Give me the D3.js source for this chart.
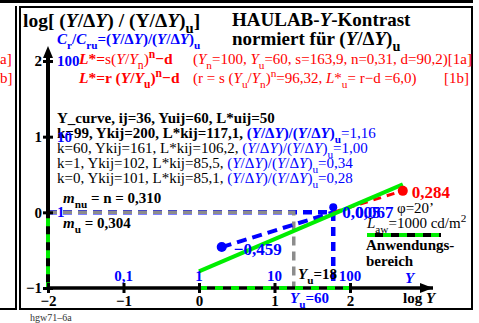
<!DOCTYPE html>
<html>
<head>
<meta charset="utf-8">
<script src="https://cdn.jsdelivr.net/npm/d3@7"></script>
<style>
  body { margin: 0; background: #fff; }
  svg { display: block; font-family: "Liberation Serif", "DejaVu Serif", serif; }
</style>
</head>
<body>
<div id="graph"></div>
<script>
// axis ticks (log Y on x, log contrast ratio on y)
const xTicks = [-2, -1, 0, 1, 2];
const yTicks = [-1, 0, 1, 2];
const yLabels = ["0,1", "1", "10", "100"];        // Y above the x axis at -1..2
const ratioTicks = [0, 1, 2];
const ratioLabels = ["1", "10", "100"];          // Cr/Cru on the y axis

// curves, [logY, log ratio]
const greenLine = [[0, -0.78], [2.70, 0.37]];
const blueLine = [[0.301, -0.459], [1.778, 0]];
const redLine = [[1.778, 0], [2.699, 0.284]];
const bluePoint = [0.301, -0.459];
const blueEndPoint = [1.778, 0.067];
const redPoint = [2.699, 0.284];
const logYu18 = 1.255;   // Yu=18
const logYu60 = 1.778;   // Yu=60
const rangeX = [0, 2];   // Anwendungsbereich on the x axis
const rangeY = [-1, 0];

const svgWidth = 479, svgHeight = 323;
const blue = "#0000ff", red = "#ff0000", green = "#00ee00", gray = "#8c8c8c";

const svg = d3.select('#graph').append('svg')
  .attr('width', svgWidth).attr('height', svgHeight);

const x = d3.scaleLinear().domain([-2, 2]).range([48, 350]);
const y = d3.scaleLinear().domain([-1, 2]).range([288, 61]);

// frames
svg.append('rect').attr('x', 0).attr('y', 0).attr('width', 473).attr('height', 3).attr('fill', '#000');
svg.append('path').attr('d', 'M0,309H16V6').attr('fill', 'none').attr('stroke', '#000').attr('stroke-width', 2);
svg.append('rect').attr('x', 20).attr('y', 7).attr('width', 452).attr('height', 302)
  .attr('fill', 'none').attr('stroke', '#000').attr('stroke-width', 2);

// rich text helper: parts = [text, flags, color]; flags: i italic, n normal, _ sub, ^ sup
function rich(px, py, size, parts, color, weight) {
  const t = svg.append('text').attr('x', px).attr('y', py)
    .attr('font-size', size).attr('fill', color || '#000')
    .attr('font-weight', weight || 'bold');
  let off = 0;
  parts.forEach(p => {
    const s = typeof p === 'string' ? p : p[0];
    const f = typeof p === 'string' ? '' : (p[1] || '');
    const ts = t.append('tspan').text(s);
    const target = f.includes('_') ? size * 0.3 : f.includes('^') ? -size * 0.4 : 0;
    if (target !== off) ts.attr('dy', target - off);
    off = target;
    if (f.includes('_') || f.includes('^')) ts.attr('font-size', size * 0.75);
    if (f.includes('i')) ts.attr('font-style', 'italic');
    if (f.includes('n')) ts.attr('font-weight', 'normal');
    if (f.includes('b')) ts.attr('font-weight', 'bold');
    if (p[2]) ts.attr('fill', p[2]);
  });
  return t;
}

// headings
rich(23, 27, 19.5, ['log[ (', ['Y', 'i'], '/Δ', ['Y', 'i'], ') / (Y/Δ', ['Y', 'i'], ')', ['u', '_'], ']']);
rich(232, 26, 19, ['HAULAB-', ['Y', 'i'], '-Kontrast']);
rich(232, 45, 19, ['normiert für (', ['Y', 'i'], '/Δ', ['Y', 'i'], ')', ['u', '_']]);
rich(57, 44, 15, [['C', 'i'], ['r', '_'], '/', ['C', 'i'], ['ru', '_'], '=(', ['Y', 'i'], '/Δ', ['Y', 'i'], ')/(', ['Y', 'i'], '/Δ', ['Y', 'i'], ')', ['u', '_']], blue);

// red formulas
rich(79, 64, 15.5, [['L', 'i'], '*=', ['s(', 'n'], ['Y', 'in'], ['/', 'n'], ['Y', 'in'], ['n', '_n'], [')', 'n'], ['n', '^'], '−d'], red);
rich(193, 64, 15, ['(', ['Y', 'i'], ['n', '_'], '=100, ', ['Y', 'i'], ['u', '_'], '=60, s=163,9, n=0,31, d=90,2)[1a]'], red, 'normal');
rich(79, 83, 15.5, [['L', 'i'], '*=r (', ['Y', 'i'], '/', ['Y', 'i'], ['u', '_'], ')', ['n', '^'], '−d'], red);
rich(193, 83, 15, ['(r = s (', ['Y', 'i'], ['u', '_'], '/', ['Y', 'i'], ['n', '_'], ')', ['n', '^'], '=96,32, ', ['L', 'i'], '*', ['u', '_'], '= r−d =6,0)'], red, 'normal');
rich(444, 83, 15, ['[1b]'], red, 'normal');
rich(0, 64, 15, ['a]'], red, 'normal');
rich(0, 83, 15, ['b]'], red, 'normal');

// Y_curve block
const ratioParts = v => [['(', '', blue], ['Y', 'i', blue], ['/Δ', '', blue], ['Y', 'i', blue], [')/(', '', blue], ['Y', 'i', blue], ['/Δ', '', blue], ['Y', 'i', blue], [')', '', blue], ['u', '_', blue], ['=' + v, 'n', blue]];
rich(57, 123, 15, ['Y_curve, ij=36, Yuij=60, L*uij=50']);
rich(57, 138, 15, ['k=99, Ykij=200, L*kij=117,1, '].concat(ratioParts('1,16')));
rich(57, 153, 15, [['k=60, Ykij=161, L*kij=106,2, ', 'n']].concat(ratioParts('1,00')), '#000', 'normal');
rich(57, 168, 15, [['k=1, Ykij=102, L*kij=85,5, ', 'n']].concat(ratioParts('0,34')), '#000', 'normal');
rich(57, 183, 15, [['k=0, Ykij=101, L*kij=85,1, ', 'n']].concat(ratioParts('0,28')), '#000', 'normal');
rich(63, 203, 15, [['m', 'i'], ['nu', '_'], ' = n = 0,310']);
rich(63, 228, 15, [['m', 'i'], ['u', '_'], ' = 0,304']);

// reference lines Yu=60 (blue) and Yu=18 (gray)
const line = d3.line().x(d => x(d[0])).y(d => y(d[1]));
svg.append('path').datum([[-2, 0], [logYu60, 0], [logYu60, -1]]).attr('d', line)
  .attr('fill', 'none').attr('stroke', blue).attr('stroke-width', 4.5).attr('stroke-dasharray', '9,6');
svg.append('path').datum([[-2, 0], [logYu18, 0], [logYu18, -1]]).attr('d', line)
  .attr('fill', 'none').attr('stroke', gray).attr('stroke-width', 3.5).attr('stroke-dasharray', '9,6');

// curves
svg.append('path').datum(redLine).attr('d', line)
  .attr('fill', 'none').attr('stroke', red).attr('stroke-width', 3).attr('stroke-dasharray', '8,6');
svg.append('path').datum(blueLine).attr('d', line)
  .attr('fill', 'none').attr('stroke', blue).attr('stroke-width', 4).attr('stroke-dasharray', '10,6');
svg.append('path').datum(greenLine).attr('d', line)
  .attr('fill', 'none').attr('stroke', green).attr('stroke-width', 4);

svg.append('circle').attr('cx', x(bluePoint[0])).attr('cy', y(bluePoint[1])).attr('r', 5).attr('fill', blue);
svg.append('circle').attr('cx', x(blueEndPoint[0])).attr('cy', y(blueEndPoint[1])).attr('r', 4).attr('fill', blue);
svg.append('circle').attr('cx', x(redPoint[0])).attr('cy', y(redPoint[1])).attr('r', 5).attr('fill', red);

rich(x(bluePoint[0]) + 12, y(bluePoint[1]) + 8, 17, ['−0,459'], blue);
rich(x(blueEndPoint[0]) + 9, y(blueEndPoint[1]) + 11, 17, ['0,005'], blue);
rich(x(blueEndPoint[0]) + 22, y(blueEndPoint[1]) + 11, 17, ['0,067'], blue);
rich(x(redPoint[0]) + 9, y(redPoint[1]) + 7, 17, ['0,284'], red);

// axes
svg.append('path').attr('d', `M${x(-2)},${y(-1)}H433`).attr('stroke', '#000').attr('stroke-width', 3.5);
svg.append('path').attr('d', 'M433,288l-13,-5v10z').attr('fill', '#000');
svg.append('path').attr('d', `M${x(-2)},${y(-1)}V52`).attr('stroke', '#000').attr('stroke-width', 4);
svg.append('path').attr('d', `M48,46l-5,12h10z`).attr('fill', '#000');

// Anwendungsbereich (green/black dashes on the axes)
svg.append('path').datum([[rangeX[0], -1], [rangeX[1], -1]]).attr('d', line)
  .attr('stroke', green).attr('stroke-width', 4).attr('stroke-dasharray', '8,8');
svg.append('path').datum([[-2, rangeY[1]], [-2, rangeY[0]]]).attr('d', line)
  .attr('stroke', green).attr('stroke-width', 4).attr('stroke-dasharray', '8,8').attr('stroke-dashoffset', -6);

const fmt = d => d < 0 ? '−' + (-d) : String(d);
const xAxis = svg.append('g').attr('transform', `translate(0,${y(-1)})`)
  .call(d3.axisBottom(x).tickValues(xTicks).tickSize(5).tickFormat(fmt));
const yAxis = svg.append('g').attr('transform', `translate(${x(-2)},0)`)
  .call(d3.axisLeft(y).tickValues(yTicks).tickSize(5).tickFormat(fmt));
[xAxis, yAxis].forEach(a => {
  a.select('.domain').remove();
  a.selectAll('line').attr('stroke', '#000').attr('stroke-width', 3);
  a.selectAll('text').attr('fill', '#000').attr('font-size', 15).attr('font-weight', 'bold')
    .attr('font-family', '"Liberation Serif", serif');
});
xAxis.selectAll('line').attr('y1', -5);
xAxis.selectAll('text').attr('y', 7);
yAxis.selectAll('line').attr('x1', 5);
yAxis.selectAll('text').attr('x', -6);

// blue value labels
svg.append('g').selectAll('text').data(yLabels).enter().append('text')
  .attr('x', (d, i) => x(i - 1)).attr('y', 281).attr('text-anchor', 'middle')
  .attr('font-size', 15).attr('font-weight', 'bold').attr('fill', blue).text(d => d);
svg.append('g').selectAll('text').data(ratioLabels).enter().append('text')
  .attr('x', 57).attr('y', (d, i) => y(ratioTicks[i]) + 5)
  .attr('font-size', 15).attr('font-weight', 'bold').attr('fill', blue).text(d => d);

rich(298, 279, 15, [['Y', 'i'], ['u', '_'], '=18']);
rich(290, 303, 15, [['Y', 'i'], ['u', '_'], '=60'], blue);
rich(405, 283, 15, [['Y', 'i']], blue);
rich(403, 303, 15, ['log ', ['Y', 'i']]);

// legend right
rich(397, 213, 15, ['φ=20’'], '#000', 'normal');
rich(367, 228, 15, [['L', 'i'], ['aw', '_'], '=1000 cd/m', ['2', '^']], '#000', 'normal');
svg.append('line').attr('x1', 367).attr('x2', 441).attr('y1', 235).attr('y2', 235)
  .attr('stroke', '#000').attr('stroke-width', 4);
svg.append('line').attr('x1', 367).attr('x2', 441).attr('y1', 235).attr('y2', 235)
  .attr('stroke', green).attr('stroke-width', 4).attr('stroke-dasharray', '8,8');
rich(366, 250, 15, ['Anwendungs-']);
rich(366, 266, 15, ['bereich']);

rich(30, 321, 10, ['hgw71–6a'], '#333', 'normal');
</script>
</body>
</html>
